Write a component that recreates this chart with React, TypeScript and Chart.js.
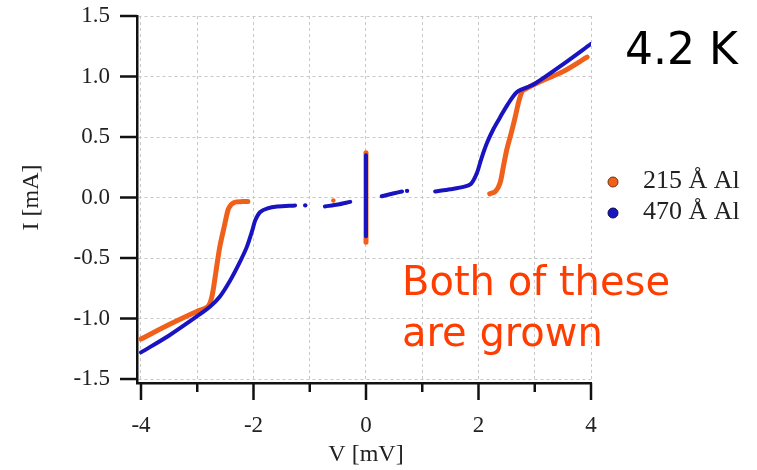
import React, { useEffect, useRef } from "react";
import { Chart, registerables } from "chart.js";

Chart.register(...registerables);

// Orange: 215 Å Al  (null separates segments)
const orangeV: (number | null)[] = [-4.0, -3.5, -3.0, -2.81, -2.74, -2.67, -2.6, -2.52, -2.45, -2.4, -2.36, -2.3, -2.2, -2.1, null,
  0, 0, null,
  2.2, 2.3, 2.38, 2.44, 2.5, 2.58, 2.65, 2.72, 2.78, 2.85, 2.97, 3.2, 3.5, 3.93];
const orangeI: (number | null)[] = [-1.17, -1.05, -0.94, -0.9, -0.82, -0.62, -0.41, -0.24, -0.1, -0.06, -0.045, -0.036, -0.034, -0.033, null,
  -0.37, 0.37, null,
  0.03, 0.05, 0.115, 0.25, 0.39, 0.53, 0.66, 0.8, 0.88, 0.9, 0.93, 0.98, 1.04, 1.16];
const orangeDotV = [-0.58];
const orangeDotI = [-0.025];

// Blue: 470 Å Al
const blueV: (number | null)[] = [-4.0, -3.5, -3.0, -2.77, -2.6, -2.42, -2.25, -2.12, -2.02, -1.97, -1.88, -1.75, -1.58, -1.26, null,
  -0.73, -0.5, -0.28, null,
  0, 0, null,
  0.28, 0.5, 0.64, null,
  1.23, 1.5, 1.75, 1.87, 1.97, 2.05, 2.15, 2.27, 2.38, 2.52, 2.68, 2.86, 3.0, 3.5, 4.0];
const blueI: (number | null)[] = [-1.28, -1.14, -0.98, -0.9, -0.82, -0.69, -0.54, -0.41, -0.27, -0.19, -0.12, -0.09, -0.075, -0.066, null,
  -0.074, -0.058, -0.036, null,
  -0.32, 0.35, null,
  0.01, 0.035, 0.05, null,
  0.05, 0.068, 0.09, 0.115, 0.2, 0.32, 0.45, 0.57, 0.66, 0.77, 0.87, 0.91, 0.94, 1.1, 1.27];
const blueDotV = [-1.08, 0.73];
const blueDotI = [-0.065, 0.055];

const xTicks = [-4, -3, -2, -1, 0, 1, 2, 3, 4];
const xMajor = [-4, -2, 0, 2, 4];
const yTicks = [-1.5, -1.0, -0.5, 0.0, 0.5, 1.0, 1.5];

const seriesLabels = ["215 Å Al", "470 Å Al"];
const tempLabel = "4.2 K";
const noteLines = ["Both of these", "are grown"];
const xTitle = "V [mV]";
const yTitle = "I [mA]";

const ORANGE = "#f0601a";
const BLUE = "#1a14c0";

function pts(vs: (number | null)[], is: (number | null)[]) {
  return vs.map((v, k) => ({ x: v === null ? NaN : v, y: is[k] === null ? null : is[k] })) as any;
}

const overlay = {
  id: "overlay",
  afterDraw(chart: any) {
    const ctx = chart.ctx;
    const xs = chart.scales.x;
    const ys = chart.scales.y;
    const { left, bottom } = chart.chartArea;
    ctx.save();
    ctx.strokeStyle = "#111";
    ctx.lineWidth = 2.5;
    ctx.lineCap = "butt";
    xTicks.forEach((v) => {
      const px = xs.getPixelForValue(v);
      const len = xMajor.includes(v) ? 17 : 9;
      ctx.beginPath();
      ctx.moveTo(px, bottom);
      ctx.lineTo(px, bottom + len);
      ctx.stroke();
    });
    yTicks.forEach((v) => {
      const py = ys.getPixelForValue(v);
      ctx.beginPath();
      ctx.moveTo(left, py);
      ctx.lineTo(left - 17, py);
      ctx.stroke();
    });
    // axis titles
    ctx.fillStyle = "#222";
    ctx.font = "24px 'Liberation Serif'";
    ctx.textAlign = "center";
    ctx.textBaseline = "middle";
    ctx.fillText(xTitle, xs.getPixelForValue(0), 455);
    ctx.save();
    ctx.translate(32, ys.getPixelForValue(0));
    ctx.rotate(-Math.PI / 2);
    ctx.fillText(yTitle, 0, 0);
    ctx.restore();
    // legend
    const items = [
      { c: ORANGE, s: "#7a3010", y: 182 },
      { c: BLUE, s: "#0a0a50", y: 213 },
    ];
    ctx.font = "26px 'Liberation Serif'";
    ctx.textAlign = "left";
    items.forEach((it, k) => {
      ctx.beginPath();
      ctx.arc(613, it.y, 5, 0, Math.PI * 2);
      ctx.fillStyle = it.c;
      ctx.fill();
      ctx.lineWidth = 1;
      ctx.strokeStyle = it.s;
      ctx.stroke();
      ctx.fillStyle = "#222";
      ctx.fillText(seriesLabels[k], 643, it.y - 1);
    });
    // annotations
    ctx.textBaseline = "alphabetic";
    ctx.fillStyle = "#000";
    ctx.font = "44px 'DejaVu Sans'";
    ctx.fillText(tempLabel, 625, 64);
    ctx.fillStyle = "#ff3d00";
    ctx.font = "40px 'DejaVu Sans'";
    ctx.fillText(noteLines[0], 402, 295);
    ctx.fillText(noteLines[1], 402, 346);
    ctx.restore();
  },
};

export default function App() {
  const ref = useRef<HTMLCanvasElement>(null);
  useEffect(() => {
    document.body.style.margin = "0";
    const lineDs = (label: string, data: any, color: string, w: number, order: number) => ({
      label,
      data,
      order,
      showLine: true,
      spanGaps: false,
      borderColor: color,
      backgroundColor: color,
      borderWidth: w,
      borderCapStyle: "round",
      borderJoinStyle: "round",
      pointRadius: 0,
      tension: 0.3,
    });
    const dotDs = (label: string, data: any, color: string, order: number) => ({
      label,
      data,
      order,
      showLine: false,
      backgroundColor: color,
      borderColor: color,
      pointRadius: 2.2,
      borderWidth: 0,
    });
    const gridOpts = { color: "#c8c8c8", lineWidth: 1, drawTicks: false };
    const borderOpts = { display: true, color: "#111", width: 2.5, dash: [3, 3] };
    const chart = new Chart(ref.current!, {
      type: "scatter",
      data: {
        datasets: [
          lineDs(seriesLabels[0], pts(orangeV, orangeI), ORANGE, 5, 2),
          dotDs(seriesLabels[0] + " dots", pts(orangeDotV, orangeDotI), ORANGE, 2),
          lineDs(seriesLabels[1], pts(blueV, blueI), BLUE, 4, 1),
          dotDs(seriesLabels[1] + " dots", pts(blueDotV, blueDotI), BLUE, 1),
        ] as any,
      },
      options: {
        animation: false,
        responsive: false,
        maintainAspectRatio: false,
        layout: { autoPadding: false, padding: { left: 0, top: 16, right: 166, bottom: 0 } },
        plugins: { legend: { display: false }, tooltip: { enabled: false } },
        scales: {
          x: {
            type: "linear",
            min: -4.071,
            max: 4,
            afterBuildTicks: (s: any) => {
              s.ticks = xTicks.map((v) => ({ value: v }));
            },
            afterFit: (s: any) => {
              s.height = 87;
              s.paddingLeft = 0;
              s.paddingRight = 0;
            },
            grid: gridOpts as any,
            border: borderOpts as any,
            ticks: {
              padding: 29,
              color: "#222",
              font: { family: "'Liberation Serif'", size: 23 },
              callback: (v: any) => (xMajor.includes(v) ? String(v) : ""),
              maxRotation: 0,
              autoSkip: false,
            },
          },
          y: {
            type: "linear",
            min: -1.533,
            max: 1.5,
            afterBuildTicks: (s: any) => {
              s.ticks = yTicks.map((v) => ({ value: v }));
            },
            afterFit: (s: any) => {
              s.width = 137;
              s.paddingTop = 0;
              s.paddingBottom = 0;
            },
            grid: gridOpts as any,
            border: borderOpts as any,
            ticks: {
              padding: 27,
              color: "#222",
              font: { family: "'Liberation Serif'", size: 23 },
              callback: (v: any) => Number(v).toFixed(1),
              autoSkip: false,
            },
          },
        },
      },
      plugins: [overlay],
    } as any);
    return () => chart.destroy();
  }, []);
  return <canvas ref={ref} width={757} height={470} style={{ display: "block" }} />;
}
